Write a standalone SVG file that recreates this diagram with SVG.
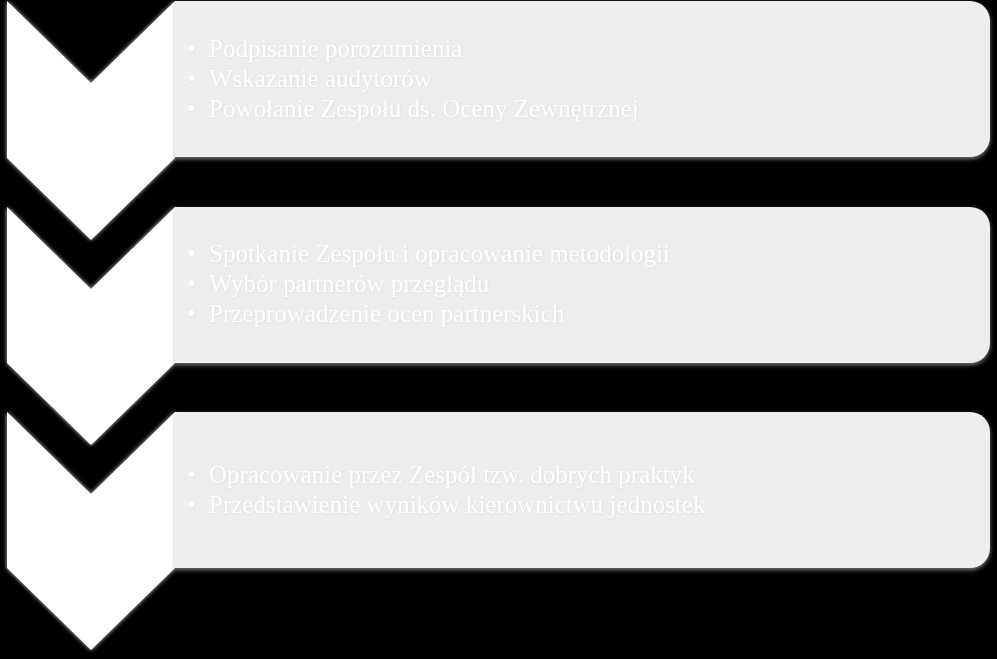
<svg xmlns="http://www.w3.org/2000/svg" width="997" height="659" viewBox="0 0 997 659">
<defs>
<style>
.chev{fill:#ffffff;filter:url(#glow);}
.box{fill:#eeeeee;filter:url(#shadow);}
.t{font-family:"Liberation Serif","Times New Roman",serif;font-size:25px;fill:#ffffff;filter:url(#tshadow);}
</style>
<filter id="glow" x="-10%" y="-10%" width="120%" height="120%">
<feGaussianBlur in="SourceAlpha" stdDeviation="2" result="b"/>
<feFlood flood-color="#ffffff" flood-opacity="0.8"/>
<feComposite in2="b" operator="in" result="g"/>
<feMerge><feMergeNode in="g"/><feMergeNode in="SourceGraphic"/></feMerge>
</filter>
<filter id="shadow" x="-5%" y="-10%" width="110%" height="125%">
<feDropShadow dx="0" dy="2" stdDeviation="2" flood-color="#aaaaaa" flood-opacity="0.7"/>
</filter>
<filter id="tshadow" x="-5%" y="-30%" width="110%" height="160%">
<feDropShadow dx="0.5" dy="0.5" stdDeviation="1" flood-color="#c4c4c4" flood-opacity="0.45"/>
</filter>
</defs>
<rect x="0" y="0" width="997" height="659" fill="#000000"/>
<g id="connectors"></g>
<g id="step1">
<path class="chev" d="M7,1 L91,83 L175,1 L175,158 L91,240 L7,158 Z"/>
<path class="box" d="M175,1 H970 A20,20 0 0 1 990,21 V137 A20,20 0 0 1 970,157 H175 Z"/>
<text class="t" x="187" y="57">•<tspan x="209">Podpisanie porozumienia</tspan></text>
<text class="t" x="187" y="87">•<tspan x="209">Wskazanie audytorów</tspan></text>
<text class="t" x="187" y="117">•<tspan x="209">Powołanie Zespołu ds. Oceny Zewnętrznej</tspan></text>
</g>
<g id="step2">
<path class="chev" d="M7,207 L91,289 L175,207 L175,363 L91,445 L7,363 Z"/>
<path class="box" d="M175,207 H970 A20,20 0 0 1 990,227 V343 A20,20 0 0 1 970,363 H175 Z"/>
<text class="t" x="187" y="262">•<tspan x="209">Spotkanie Zespołu i opracowanie metodologii</tspan></text>
<text class="t" x="187" y="292">•<tspan x="209">Wybór partnerów przeglądu</tspan></text>
<text class="t" x="187" y="322">•<tspan x="209">Przeprowadzenie ocen partnerskich</tspan></text>
</g>
<g id="step3">
<path class="chev" d="M7,412 L91,494 L175,412 L175,568 L91,650 L7,568 Z"/>
<path class="box" d="M175,412 H970 A20,20 0 0 1 990,432 V548 A20,20 0 0 1 970,568 H175 Z"/>
<text class="t" x="187" y="483">•<tspan x="209">Opracowanie przez Zespół tzw. dobrych praktyk</tspan></text>
<text class="t" x="187" y="513">•<tspan x="209">Przedstawienie wyników kierownictwu jednostek</tspan></text>
</g>
</svg>
